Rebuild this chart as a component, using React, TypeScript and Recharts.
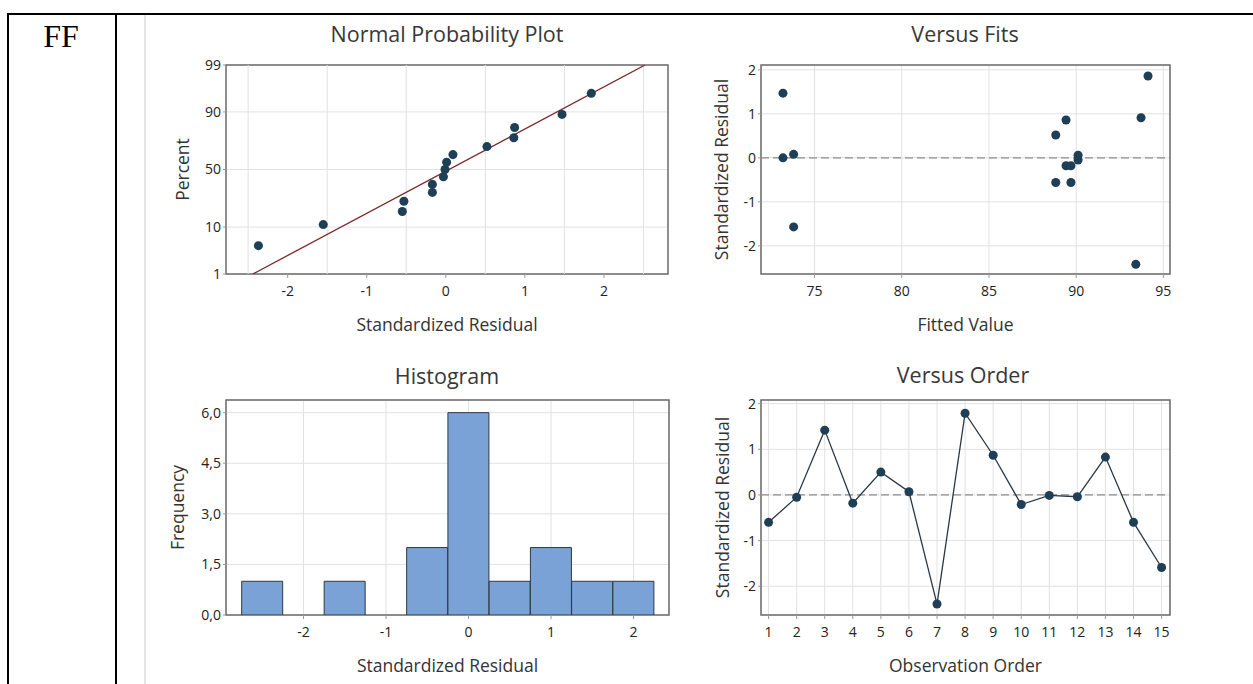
import React from "react";
import {
  ScatterChart,
  Scatter,
  BarChart,
  Bar,
  LineChart,
  Line,
  XAxis,
  YAxis,
  CartesianGrid,
  ReferenceLine,
  ReferenceArea,
  Label,
} from "recharts";

// normal probability plot (residual vs plotted percent)
const NORMAL_RESID = [-2.37, -1.55, -0.55, -0.53, -0.17, -0.17, -0.03, -0.01, 0.01, 0.09, 0.52, 0.86, 0.87, 1.47, 1.84];
const NORMAL_PCT = [4.5, 11.0, 17.5, 24.0, 30.5, 37.0, 43.5, 50.0, 56.5, 63.0, 69.5, 76.0, 82.5, 89.0, 95.5];
const FIT_LINE_X = [-2.44, 2.52];
const FIT_LINE_PCT = [1, 99];
const PCT_TICKS = [1, 10, 50, 90, 99];
const NORMAL_X_TICKS = [-2, -1, 0, 1, 2];
const NORMAL_X_GRID = [-2.5, -1.5, -0.5, 0.5, 1.5, 2.5];

// versus fits
const FITTED = [73.19, 73.19, 73.8, 73.8, 88.83, 88.83, 89.42, 89.42, 89.7, 89.7, 90.11, 90.11, 93.72, 94.12, 93.42];
const FITS_RESID = [1.47, 0.0, 0.08, -1.57, 0.52, -0.56, 0.86, -0.18, -0.18, -0.56, -0.05, 0.06, 0.91, 1.86, -2.42];
const FIT_X_TICKS = [75, 80, 85, 90, 95];

// histogram
const BIN_MID = [-2.5, -2, -1.5, -1, -0.5, 0, 0.5, 1, 1.5, 2];
const BIN_COUNT = [1, 0, 1, 0, 2, 6, 1, 2, 1, 1];
const HIST_Y_TICKS = [0, 1.5, 3, 4.5, 6];

// versus order
const ORDER = [1, 2, 3, 4, 5, 6, 7, 8, 9, 10, 11, 12, 13, 14, 15];
const ORDER_RESID = [-0.6, -0.05, 1.42, -0.18, 0.5, 0.07, -2.39, 1.79, 0.87, -0.21, -0.01, -0.04, 0.83, -0.6, -1.59];

const RESID_TICKS = [-2, -1, 0, 1, 2];

const FONT = '"Open Sans", "Noto Sans", sans-serif';
const POINT = "#1e3f55";
const GRID = "#e2e2e2";
const FRAME = "#6b6b6b";
const TEXT = "#222";

// Abramowitz & Stegun 26.2.23, for the probability axis
const probit = (pct: number) => {
  const p = pct / 100;
  const q = p < 0.5 ? p : 1 - p;
  const t = Math.sqrt(-2 * Math.log(q));
  const z = t - (2.515517 + 0.802853 * t + 0.010328 * t * t) / (1 + 1.432788 * t + 0.189269 * t * t + 0.001308 * t * t * t);
  return p < 0.5 ? -z : z;
};

const tickStyle = { fontSize: 14, fill: TEXT, fontFamily: FONT };
const labelStyle = { fontSize: 17.5, fill: "#333", fontFamily: FONT };

const Title = ({ x, y, text }: { x: number; y: number; text: string }) => (
  <div
    style={{
      position: "absolute",
      left: x,
      top: y,
      transform: "translate(-50%, -50%)",
      fontFamily: FONT,
      fontSize: 21.5,
      lineHeight: 1,
      color: "#383838",
      whiteSpace: "nowrap",
    }}
  >
    {text}
  </div>
);

const xLabel = (text: string) => (
  <Label value={text} position="insideBottom" offset={3} style={labelStyle} />
);
const yLabel = (text: string, offset: number) => (
  <Label
    value={text}
    angle={-90}
    position="insideLeft"
    offset={offset}
    style={{ ...labelStyle, textAnchor: "middle" }}
  />
);

const NormalPlot = () => {
  const data = NORMAL_RESID.map((x, i) => ({ x, z: probit(NORMAL_PCT[i]) }));
  const fit = FIT_LINE_X.map((x, i) => ({ x, z: probit(FIT_LINE_PCT[i]) }));
  const zTicks = PCT_TICKS.map(probit);
  const xDom = [-2.78, 2.81];
  const zDom = [probit(1), probit(99)];
  return (
    <ScatterChart width={530} height={320} margin={{ top: 45, right: 12, left: 16, bottom: 6 }}>
      <CartesianGrid stroke={GRID} vertical={false} />
      {NORMAL_X_GRID.map((v) => (
        <ReferenceLine key={v} x={v} stroke={GRID} />
      ))}
      <XAxis
        type="number"
        dataKey="x"
        domain={xDom}
        ticks={NORMAL_X_TICKS}
        allowDataOverflow
        axisLine={false}
        tickSize={4}
        tickMargin={8}
        tickLine={{ stroke: "#999" }}
        tick={tickStyle}
        height={60}
      >
        {xLabel("Standardized Residual")}
      </XAxis>
      <YAxis
        type="number"
        dataKey="z"
        domain={zDom}
        ticks={zTicks}
        allowDataOverflow
        tickFormatter={(_v: number, i: number) => String(PCT_TICKS[i])}
        axisLine={false}
        tickSize={3}
        tickMargin={2}
        tickLine={{ stroke: "#999" }}
        tick={tickStyle}
        width={60}
      >
        {yLabel("Percent", 17)}
      </YAxis>
      <ReferenceArea x1={xDom[0]} x2={xDom[1]} y1={zDom[0]} y2={zDom[1]} fill="none" stroke={FRAME} strokeWidth={1.5} />
      <Scatter
        data={fit}
        line={{ stroke: "#7a2a2a", strokeWidth: 1.3 }}
        shape={() => <g />}
        isAnimationActive={false}
      />
      <Scatter data={data} fill={POINT} isAnimationActive={false} />
    </ScatterChart>
  );
};

const VersusFits = () => {
  const data = FITTED.map((x, i) => ({ x, y: FITS_RESID[i] }));
  const xDom = [71.93, 95.38];
  const yDom = [-2.64, 2.11];
  return (
    <ScatterChart width={500} height={320} margin={{ top: 45, right: 20, left: 11, bottom: 6 }}>
      <CartesianGrid stroke={GRID} />
      <XAxis
        type="number"
        dataKey="x"
        domain={xDom}
        ticks={FIT_X_TICKS}
        allowDataOverflow
        axisLine={false}
        tickSize={4}
        tickMargin={8}
        tickLine={{ stroke: "#999" }}
        tick={tickStyle}
        height={60}
      >
        {xLabel("Fitted Value")}
      </XAxis>
      <YAxis
        type="number"
        dataKey="y"
        domain={yDom}
        ticks={RESID_TICKS}
        allowDataOverflow
        axisLine={false}
        tickSize={3}
        tickMargin={2}
        tickLine={{ stroke: "#999" }}
        tick={tickStyle}
        width={60}
      >
        {yLabel("Standardized Residual", 21)}
      </YAxis>
      <ReferenceLine y={0} stroke="#8c8c8c" strokeWidth={1.3} strokeDasharray="8 4" />
      <ReferenceArea x1={xDom[0]} x2={xDom[1]} y1={yDom[0]} y2={yDom[1]} fill="none" stroke={FRAME} strokeWidth={1.5} />
      <Scatter data={data} fill={POINT} isAnimationActive={false} />
    </ScatterChart>
  );
};

const Histogram = () => {
  const data = BIN_MID.map((mid, i) => ({ mid, count: BIN_COUNT[i] }));
  const xDom = [-2.94, 2.43];
  const yDom = [0, 6.375];
  return (
    <BarChart
      width={530}
      height={320}
      data={data}
      barCategoryGap={0}
      barGap={0}
      margin={{ top: 40, right: 11, left: 16, bottom: 5 }}
    >
      <CartesianGrid stroke={GRID} />
      <XAxis
        type="number"
        dataKey="mid"
        domain={xDom}
        ticks={[-2, -1, 0, 1, 2]}
        allowDataOverflow
        axisLine={false}
        tickSize={4}
        tickMargin={8}
        tickLine={{ stroke: "#999" }}
        tick={tickStyle}
        height={60}
      >
        {xLabel("Standardized Residual")}
      </XAxis>
      <YAxis
        type="number"
        domain={yDom}
        ticks={HIST_Y_TICKS}
        allowDataOverflow
        tickFormatter={(v: number) => v.toFixed(1).replace(".", ",")}
        axisLine={false}
        tickSize={3}
        tickMargin={2}
        tickLine={{ stroke: "#999" }}
        tick={tickStyle}
        width={60}
      >
        {yLabel("Frequency", 12)}
      </YAxis>
      <ReferenceArea x1={xDom[0]} x2={xDom[1]} y1={yDom[0]} y2={yDom[1]} fill="none" stroke={FRAME} strokeWidth={1.5} />
      <Bar dataKey="count" fill="#7aa2d6" stroke="#2e3944" strokeWidth={1} isAnimationActive={false} />
    </BarChart>
  );
};

const VersusOrder = () => {
  const data = ORDER.map((order, i) => ({ order, resid: ORDER_RESID[i] }));
  const xDom = [0.73, 15.3];
  const yDom = [-2.63, 2.08];
  return (
    <LineChart width={500} height={320} data={data} margin={{ top: 40, right: 20, left: 11, bottom: 5 }}>
      <CartesianGrid stroke={GRID} />
      <XAxis
        type="number"
        dataKey="order"
        domain={xDom}
        ticks={ORDER}
        allowDataOverflow
        axisLine={false}
        tickSize={4}
        tickMargin={8}
        tickLine={{ stroke: "#999" }}
        tick={tickStyle}
        interval={0}
        height={60}
      >
        {xLabel("Observation Order")}
      </XAxis>
      <YAxis
        type="number"
        domain={yDom}
        ticks={RESID_TICKS}
        allowDataOverflow
        axisLine={false}
        tickSize={3}
        tickMargin={2}
        tickLine={{ stroke: "#999" }}
        tick={tickStyle}
        width={60}
      >
        {yLabel("Standardized Residual", 22)}
      </YAxis>
      <ReferenceLine y={0} stroke="#8c8c8c" strokeWidth={1.3} strokeDasharray="8 4" />
      <ReferenceArea x1={xDom[0]} x2={xDom[1]} y1={yDom[0]} y2={yDom[1]} fill="none" stroke={FRAME} strokeWidth={1.5} />
      <Line
        dataKey="resid"
        stroke="#2a3844"
        strokeWidth={1.3}
        dot={{ r: 4.5, fill: POINT, stroke: "none" }}
        isAnimationActive={false}
      />
    </LineChart>
  );
};

const box = (left: number, top: number): React.CSSProperties => ({ position: "absolute", left, top });

export default function App() {
  return (
    <div style={{ position: "absolute", left: 0, top: 0, width: 1253, height: 684, background: "#fff", overflow: "hidden" }}>
      {/* table cell borders */}
      <div style={{ position: "absolute", left: 7, top: 13, width: 1246, height: 2, background: "#000" }} />
      <div style={{ position: "absolute", left: 7, top: 13, width: 2, height: 671, background: "#000" }} />
      <div style={{ position: "absolute", left: 115, top: 13, width: 2, height: 671, background: "#000" }} />
      <div style={{ position: "absolute", left: 144, top: 15, width: 2, height: 669, background: "#e6e6e6" }} />
      <div
        style={{
          position: "absolute",
          left: 61,
          top: 36,
          transform: "translate(-50%, -50%)",
          fontFamily: '"Liberation Serif", "Times New Roman", serif',
          fontSize: 32,
          lineHeight: 1,
          color: "#000",
        }}
      >
        FF
      </div>

      <Title x={447} y={34} text="Normal Probability Plot" />
      <Title x={965} y={34} text="Versus Fits" />
      <Title x={447} y={376} text="Histogram" />
      <Title x={963} y={375} text="Versus Order" />

      <div style={box(150, 20)}>
        <NormalPlot />
      </div>
      <div style={box(690, 20)}>
        <VersusFits />
      </div>
      <div style={box(150, 360)}>
        <Histogram />
      </div>
      <div style={box(690, 360)}>
        <VersusOrder />
      </div>
    </div>
  );
}
